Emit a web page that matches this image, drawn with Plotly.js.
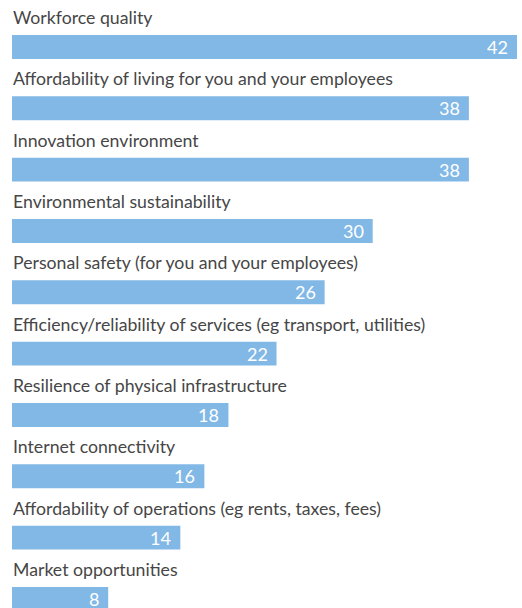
<!DOCTYPE html>
<html><head><meta charset="utf-8">
<script src="https://cdn.plot.ly/plotly-3.0.1.min.js"></script>
<style>html,body{margin:0;padding:0;background:#fff;}#chart{width:522px;height:608px;}</style>
</head><body><div id="chart"></div>
<script>
const categories = [
  "Workforce quality",
  "Affordability of living for you and your employees",
  "Innovation environment",
  "Environmental sustainability",
  "Personal safety (for you and your employees)",
  "Efficiency/reliability of services (eg transport, utilities)",
  "Resilience of physical infrastructure",
  "Internet connectivity",
  "Affordability of operations (eg rents, taxes, fees)",
  "Market opportunities"
];
const values = [42, 38, 38, 30, 26, 22, 18, 16, 14, 8];

const FONT = "Lato, 'Open Sans', sans-serif";
const idx = categories.map((c, i) => i);

const annotations = [];
categories.forEach((c, i) => {
  annotations.push({
    x: 0, y: i, xref: 'x', yref: 'y', text: c, showarrow: false,
    xanchor: 'left', yanchor: 'middle', xshift: -1, yshift: 29.5,
    font: {family: FONT, size: 17.7, color: '#464646'}
  });
  annotations.push({
    x: values[i], y: i, xref: 'x', yref: 'y', text: String(values[i]), showarrow: false,
    xanchor: 'right', yanchor: 'middle', xshift: -7, yshift: 0,
    font: {family: FONT, size: 18, color: '#ffffff'}
  });
});

const trace = {
  type: 'bar', orientation: 'h',
  x: values, y: idx,
  marker: {color: '#82b8e6'},
  width: 0.39,
  hoverinfo: 'none'
};

const layout = {
  width: 522, height: 608,
  margin: {l: 12, r: 5, t: 0, b: 0, pad: 0},
  paper_bgcolor: '#ffffff', plot_bgcolor: '#ffffff',
  showlegend: false,
  xaxis: {range: [0, 42], visible: false, fixedrange: true},
  yaxis: {range: [9.147, -0.766], visible: false, fixedrange: true},
  annotations: annotations
};

Plotly.newPlot('chart', [trace], layout, {displayModeBar: false, staticPlot: true});
</script></body></html>
